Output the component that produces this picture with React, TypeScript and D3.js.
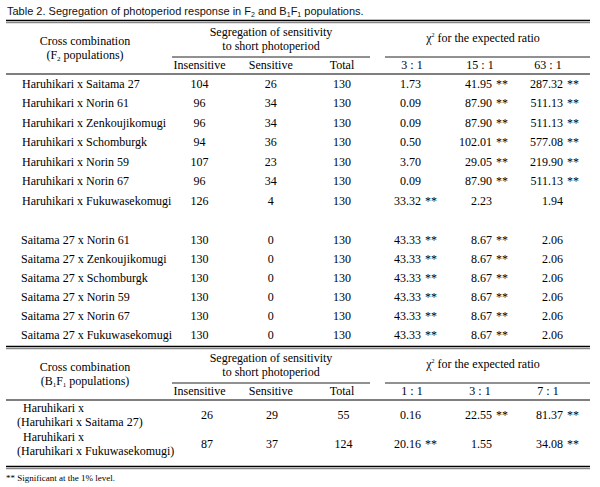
import React from "react";
import * as d3 from "d3";

const crossF2 = [
  "Haruhikari x Saitama 27",
  "Haruhikari x Norin 61",
  "Haruhikari x Zenkoujikomugi",
  "Haruhikari x Schomburgk",
  "Haruhikari x Norin 59",
  "Haruhikari x Norin 67",
  "Haruhikari x Fukuwasekomugi",
  "Saitama 27 x Norin 61",
  "Saitama 27 x Zenkoujikomugi",
  "Saitama 27 x Schomburgk",
  "Saitama 27 x Norin 59",
  "Saitama 27 x Norin 67",
  "Saitama 27 x Fukuwasekomugi",
];
const insensitiveF2 = ["104", "96", "96", "94", "107", "96", "126", "130", "130", "130", "130", "130", "130"];
const sensitiveF2 = ["26", "34", "34", "36", "23", "34", "4", "0", "0", "0", "0", "0", "0"];
const totalF2 = ["130", "130", "130", "130", "130", "130", "130", "130", "130", "130", "130", "130", "130"];
const chi3to1 = ["1.73", "0.09", "0.09", "0.50", "3.70", "0.09", "33.32", "43.33", "43.33", "43.33", "43.33", "43.33", "43.33"];
const sig3to1 = [false, false, false, false, false, false, true, true, true, true, true, true, true];
const chi15to1 = ["41.95", "87.90", "87.90", "102.01", "29.05", "87.90", "2.23", "8.67", "8.67", "8.67", "8.67", "8.67", "8.67"];
const sig15to1 = [true, true, true, true, true, true, false, true, true, true, true, true, true];
const chi63to1 = ["287.32", "511.13", "511.13", "577.08", "219.90", "511.13", "1.94", "2.06", "2.06", "2.06", "2.06", "2.06", "2.06"];
const sig63to1 = [true, true, true, true, true, true, false, false, false, false, false, false, false];
const ratiosF2 = ["3 : 1", "15 : 1", "63 : 1"];

const crossB1F1Line1 = ["Haruhikari x", "Haruhikari x"];
const crossB1F1Line2 = ["(Haruhikari x Saitama 27)", "(Haruhikari x Fukuwasekomugi)"];
const insensitiveB = ["26", "87"];
const sensitiveB = ["29", "37"];
const totalB = ["55", "124"];
const chi1to1 = ["0.16", "20.16"];
const sigB1 = [false, true];
const chi3to1B = ["22.55", "1.55"];
const sigB2 = [true, false];
const chi7to1 = ["81.37", "34.08"];
const sigB3 = [true, true];
const ratiosB = ["1 : 1", "3 : 1", "7 : 1"];

const colHeads = ["Insensitive", "Sensitive", "Total"];

const SERIF = "'Liberation Serif', 'Times New Roman', serif";
const SANS = "'Liberation Sans', Arial, sans-serif";
const FS = 12;

export default function App() {
  const W = 600, H = 487;
  const L = 6, R = 590;
  const countX = d3.scalePoint<string>().domain(colHeads).range([199.5, 342]);
  const ratioRight = d3.scalePoint<number>().domain([0, 1, 2]).range([421, 563]);
  const ratioHeadX = d3.scalePoint<number>().domain([0, 1, 2]).range([412, 548]);

  const rowsA = d3.scaleLinear().domain([0, 6]).range([83.5, 200.5]);
  const rowsB = d3.scaleLinear().domain([7, 12]).range([240, 335]);
  const rowY = (i: number) => (i < 7 ? rowsA(i) : rowsB(i)) + 4;

  const rowsC = d3.scaleLinear().domain([0, 1]).range([415, 443.5]);

  const txt = (x: number, y: number, s: string, anchor = "middle", key?: any, extra: any = {}) => (
    <text key={key} x={x} y={y} textAnchor={anchor} fontFamily={SERIF} fontSize={FS} fill="#000" {...extra}>
      {s}
    </text>
  );

  const chiCell = (col: number, y: number, v: string, sig: boolean, key: string) => (
    <g key={key}>
      {txt(ratioRight(col)!, y, v, "end")}
      {sig && txt(ratioRight(col)! + 4, y, "**", "start")}
    </g>
  );

  const doubleRule = (y: number) => (
    <g>
      <line x1={L} x2={R} y1={y} y2={y} stroke="#000" strokeWidth={1.4} />
      <line x1={L} x2={R} y1={y + 2.2} y2={y + 2.2} stroke="#444" strokeWidth={0.8} />
    </g>
  );

  const header = (top: number, kind: "F2" | "B") => {
    const ratios = kind === "F2" ? ratiosF2 : ratiosB;
    return (
      <g>
        <text x={85} y={top + 24} textAnchor="middle" fontFamily={SERIF} fontSize={FS}>Cross combination</text>
        {kind === "F2" ? (
          <text x={85} y={top + 37.5} textAnchor="middle" fontFamily={SERIF} fontSize={FS}>
            (F<tspan fontSize={7} dy={2}>2</tspan><tspan dy={-2}> populations)</tspan>
          </text>
        ) : (
          <text x={85} y={top + 37.5} textAnchor="middle" fontFamily={SERIF} fontSize={FS}>
            (B<tspan fontSize={7} dy={2}>1</tspan><tspan dy={-2}>F</tspan><tspan fontSize={7} dy={2}>1</tspan><tspan dy={-2}> populations)</tspan>
          </text>
        )}
        <text x={271} y={top + 14.5} textAnchor="middle" fontFamily={SERIF} fontSize={FS}>Segregation of sensitivity</text>
        <text x={271} y={top + 28.5} textAnchor="middle" fontFamily={SERIF} fontSize={FS}>to short photoperiod</text>
        <text x={483} y={top + 21} textAnchor="middle" fontFamily={SERIF} fontSize={FS}>
          χ<tspan fontSize={6} dy={-5}>2</tspan><tspan dy={5}> for the expected ratio</tspan>
        </text>
        <line x1={172} x2={370} y1={top + 36} y2={top + 36} stroke="#222" strokeWidth={1} />
        <line x1={385} x2={R} y1={top + 36} y2={top + 36} stroke="#222" strokeWidth={1} />
        {colHeads.map((c) => txt(countX(c)!, top + 47.5, c, "middle", c))}
        {ratios.map((r, i) => txt(ratioHeadX(i)!, top + 47.5, r, "middle", r))}
        <line x1={L} x2={R} y1={top + 53} y2={top + 53} stroke="#000" strokeWidth={1.2} />
      </g>
    );
  };

  return (
    <svg width={W} height={H} style={{ position: "absolute", left: 0, top: 0, background: "#fff" }}>
      <rect width={W} height={H} fill="#fff" />
      <text x={7} y={15} fontFamily={SANS} fontSize={11} fill="#111">
        Table 2. Segregation of photoperiod response in F<tspan fontSize={7} dy={2}>2</tspan>
        <tspan dy={-2}> and B</tspan><tspan fontSize={7} dy={2}>1</tspan><tspan dy={-2}>F</tspan>
        <tspan fontSize={7} dy={2}>1</tspan><tspan dy={-2}> populations.</tspan>
      </text>
      {doubleRule(20.5)}
      {header(21, "F2")}
      {crossF2.map((c, i) => {
        const y = rowY(i);
        return (
          <g key={c}>
            {txt(i < 7 ? 22 : 21, y, c, "start")}
            {txt(countX("Insensitive")!, y, insensitiveF2[i])}
            {txt(countX("Sensitive")!, y, sensitiveF2[i])}
            {txt(countX("Total")!, y, totalF2[i])}
            {chiCell(0, y, chi3to1[i], sig3to1[i], "a")}
            {chiCell(1, y, chi15to1[i], sig15to1[i], "b")}
            {chiCell(2, y, chi63to1[i], sig63to1[i], "c")}
          </g>
        );
      })}
      {doubleRule(346.5)}
      {header(347, "B")}
      {crossB1F1Line1.map((c, i) => {
        const y = rowsC(i);
        return (
          <g key={i}>
            {txt(23, y - 3, c, "start")}
            {txt(17, y + 11, crossB1F1Line2[i], "start")}
            {txt(207, y + 4, insensitiveB[i])}
            {txt(272, y + 4, sensitiveB[i])}
            {txt(343.5, y + 4, totalB[i])}
            {chiCell(0, y + 4, chi1to1[i], sigB1[i], "a")}
            {chiCell(1, y + 4, chi3to1B[i], sigB2[i], "b")}
            {chiCell(2, y + 4, chi7to1[i], sigB3[i], "c")}
          </g>
        );
      })}
      {doubleRule(466.5)}
      <text x={6} y={481} fontFamily={SERIF} fontSize={9} fill="#000">** Significant at the 1% level.</text>
    </svg>
  );
}
